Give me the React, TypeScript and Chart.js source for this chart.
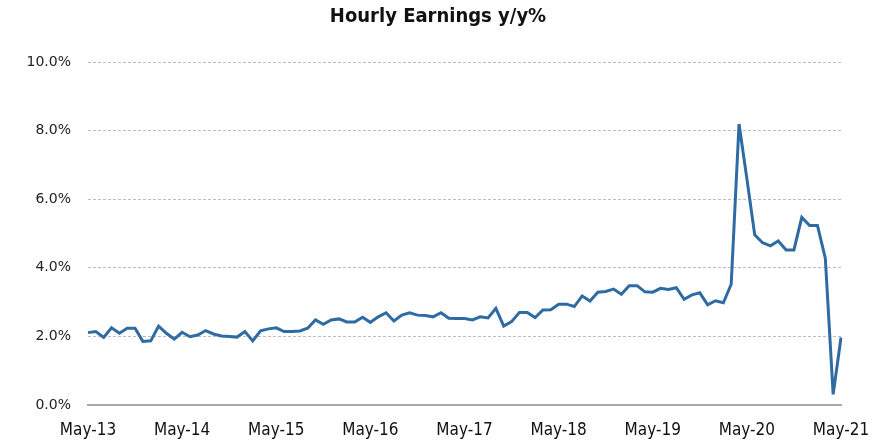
import React, { useEffect, useRef } from "react";
import { Chart, registerables } from "chart.js";

Chart.register(...registerables);

const START_YEAR = 2013;
const START_MONTH = 4; // May (0-based)
const MONTHS = ["Jan", "Feb", "Mar", "Apr", "May", "Jun", "Jul", "Aug", "Sep", "Oct", "Nov", "Dec"];

const earningsYoY: number[] = [
  2.11, 2.14, 1.97, 2.25, 2.09, 2.24, 2.24, 1.85, 1.87, 2.30, 2.09, 1.92,
  2.12, 1.99, 2.04, 2.17, 2.07, 2.01, 2.00, 1.98, 2.14, 1.87, 2.16, 2.22,
  2.25, 2.14, 2.14, 2.16, 2.24, 2.48, 2.35, 2.48, 2.51, 2.42, 2.42, 2.56,
  2.41, 2.57, 2.69, 2.45, 2.62, 2.69, 2.62, 2.61, 2.57, 2.69, 2.53, 2.52,
  2.52, 2.48, 2.57, 2.54, 2.82, 2.30, 2.43, 2.70, 2.70, 2.55, 2.77, 2.78,
  2.94, 2.94, 2.87, 3.18, 3.03, 3.29, 3.31, 3.38, 3.23, 3.48, 3.48, 3.30,
  3.29, 3.40, 3.37, 3.42, 3.08, 3.21, 3.27, 2.92, 3.04, 2.98, 3.52, 8.19,
  6.60, 4.96, 4.73, 4.64, 4.78, 4.52, 4.52, 5.47, 5.23, 5.23, 4.28, 0.31,
  1.97,
];

const monthLabels: string[] = earningsYoY.map((_, i) => {
  const m = (START_MONTH + i) % 12;
  const y = START_YEAR + Math.floor((START_MONTH + i) / 12);
  return `${MONTHS[m]}-${String(y % 100).padStart(2, "0")}`;
});

const yTicks: number[] = [0, 2, 4, 6, 8, 10];
const TITLE = "Hourly Earnings y/y%";

const titlePlugin = {
  id: "customTitle",
  afterDraw(chart: any) {
    const ctx = chart.ctx;
    ctx.save();
    ctx.font = "bold 20px 'DejaVu Sans Condensed', 'DejaVu Sans', sans-serif";
    ctx.fillStyle = "#111";
    ctx.textAlign = "center";
    ctx.textBaseline = "middle";
    ctx.fillText(TITLE, 438, 17);
    ctx.restore();
  },
};

export default function App() {
  const ref = useRef<HTMLCanvasElement | null>(null);

  useEffect(() => {
    if (!ref.current) return;
    const chart = new Chart(ref.current, {
      type: "line",
      data: {
        labels: monthLabels,
        datasets: [
          {
            label: TITLE,
            data: earningsYoY,
            borderColor: "#2f6ba3",
            borderWidth: 3,
            pointRadius: 0,
            tension: 0,
            fill: false,
          },
        ],
      },
      plugins: [titlePlugin],
      options: {
        animation: false,
        responsive: false,
        maintainAspectRatio: false,
        layout: { padding: { left: 0, right: 45, top: 62, bottom: 0 } },
        plugins: {
          legend: { display: false },
          tooltip: { enabled: false },
          title: { display: false },
        },
        scales: {
          x: {
            type: "category",
            offset: false,
            afterFit: (s: any) => {
              s.height = 39;
            },
            grid: { display: false, drawTicks: false },
            border: { display: true, color: "#a8a8a8", width: 2 },
            ticks: {
              autoSkip: false,
              maxRotation: 0,
              minRotation: 0,
              padding: 15,
              color: "#111",
              font: { family: "'DejaVu Sans Condensed', 'DejaVu Sans', sans-serif", size: 17 },
              callback: (_v: any, i: number) => (i % 12 === 0 ? monthLabels[i] : ""),
            },
          },
          y: {
            min: 0,
            max: 10,
            afterFit: (s: any) => {
              s.width = 88;
            },
            afterBuildTicks: (s: any) => {
              s.ticks = yTicks.map((v) => ({ value: v }));
            },
            grid: {
              drawTicks: false,
              color: (ctx: any) => (ctx.tick && ctx.tick.value === 0 ? "rgba(0,0,0,0)" : "#bdbdbd"),
              lineWidth: 1,
            },
            border: { display: false, dash: [3, 2] },
            ticks: {
              padding: 17,
              color: "#222",
              font: { family: "'DejaVu Sans', sans-serif", size: 14 },
              callback: (v: any) => Number(v).toFixed(1) + "%",
            },
          },
        },
      },
    });
    return () => chart.destroy();
  }, []);

  return (
    <div style={{ position: "fixed", left: 0, top: 0, width: 886, height: 444, background: "#fff" }}>
      <canvas ref={ref} width={886} height={444} style={{ width: 886, height: 444 }} />
    </div>
  );
}
